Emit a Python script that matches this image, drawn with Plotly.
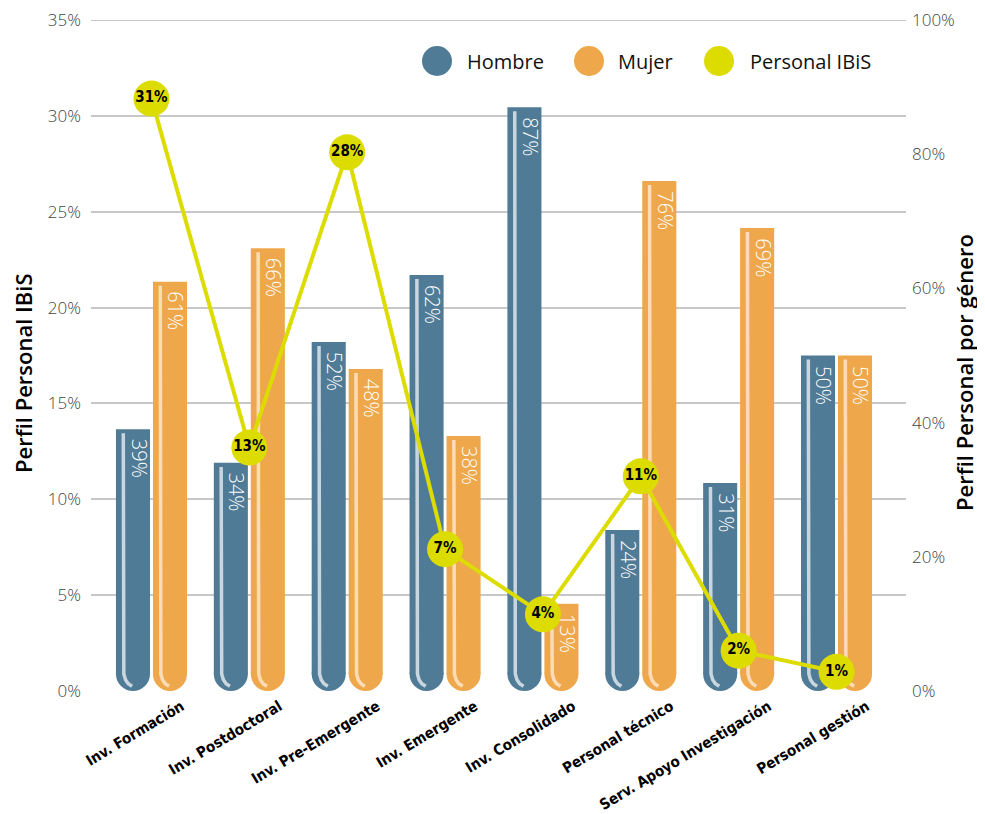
import plotly.graph_objects as go

categories = ["Inv. Formación", "Inv. Postdoctoral", "Inv. Pre-Emergente", "Inv. Emergente",
              "Inv. Consolidado", "Personal técnico", "Serv. Apoyo Investigación", "Personal gestión"]
hombre = [39, 34, 52, 62, 87, 24, 31, 50]
mujer = [61, 66, 48, 38, 13, 76, 69, 50]
personal_ibis = [30.9, 12.7, 28.1, 7.4, 4.0, 11.2, 2.1, 1.0]
left_ticks = [0, 5, 10, 15, 20, 25, 30, 35]
right_ticks = [0, 20, 40, 60, 80, 100]

C_H = "#4f7b96"
C_M = "#eea84b"
C_Y = "#dcdc00"
S_H = "#c9d6df"
S_M = "#fbdcb6"
COND = "DejaVu Sans Condensed, Open Sans Condensed, Open Sans"

# page body has an 8px margin; figure is sized so that the plot lands where the reference has it
BODY = 8
W, H = 985 - BODY, 814 - BODY
PX0, PX1, PY0, PY1 = 91 - BODY, 906 - BODY, 20 - BODY, 691 - BODY
XR = [-0.618, 7.71]
GR = [0, 100.0005]
IR = [0, 35.0002]
xs = list(range(len(categories)))
BW = 0.348
OFF_H = -0.363
OFF_M = 0.015
ux = (XR[1] - XR[0]) / (PX1 - PX0)
uy = (GR[1] - GR[0]) / (PY1 - PY0)
RY = (BW / 2) / ux * uy  # bottom radius in gender-axis units

fig = go.Figure()
annotations = []

def bar_trace(vals, name, color, off):
    return go.Bar(
        x=xs, y=[v - RY for v in vals], base=RY, name=name, yaxis="y",
        width=BW, offset=off, marker=dict(color=color, line=dict(width=0)),
        showlegend=False, hoverinfo="skip",
    )

fig.add_trace(bar_trace(hombre, "Hombre", C_H, OFF_H))
fig.add_trace(bar_trace(mujer, "Mujer", C_M, OFF_M))

# value labels inside the bars (rotated, near the top, right of the stripe)
for vals, off in ((hombre, OFF_H), (mujer, OFF_M)):
    for i, v in enumerate(vals):
        annotations.append(dict(x=i + off + BW / 2, y=v, xref="x", yref="y", text=f"{v}%",
                                showarrow=False, textangle=90, xanchor="center", yanchor="top",
                                xshift=6, yshift=-8,
                                font=dict(family="Open Sans", size=20, color="white", weight=300)))

# highlight stripes inside bars, drawn on the bar axis (above bars, below the line)
for vals, off, sc in ((hombre, OFF_H, S_H), (mujer, OFF_M, S_M)):
    sx, sy = [], []
    for i, v in enumerate(vals):
        x0 = i + off + 0.075
        sx += [x0, x0]
        sy += [v - 0.6, 3.6]
        for t in (0.25, 0.5, 0.75, 1.0):
            qx = (1 - t) ** 2 * x0 + 2 * (1 - t) * t * x0 + t ** 2 * (x0 + 0.09)
            qy = (1 - t) ** 2 * 3.6 + 2 * (1 - t) * t * 1.2 + t ** 2 * 0.7
            sx.append(qx)
            sy.append(qy)
        sx.append(None)
        sy.append(None)
    fig.add_trace(go.Scatter(x=sx, y=sy, mode="lines", yaxis="y", line=dict(color=sc, width=3.5),
                             showlegend=False, hoverinfo="skip"))

fig.add_trace(go.Scatter(
    x=xs, y=personal_ibis, name="Personal IBiS", mode="lines+markers+text", yaxis="y2",
    line=dict(color=C_Y, width=4), marker=dict(size=36, color=C_Y),
    text=[f"{round(v)}%" for v in personal_ibis], textposition="middle center",
    textfont=dict(family=COND, size=15, color="black", weight="bold"),
    showlegend=False, hoverinfo="skip",
))

shapes = []
K = 0.5523
for vals, off, col in ((hombre, OFF_H, C_H), (mujer, OFF_M, C_M)):
    for i, v in enumerate(vals):
        xl = i + off
        xr = xl + BW
        xc = xl + BW / 2
        hw = BW / 2
        path = (f"M {xl},{RY + 0.2} L {xl},{RY} C {xl},{RY - RY*K} {xc - hw*K},0 {xc},0 "
                f"C {xc + hw*K},0 {xr},{RY - RY*K} {xr},{RY} L {xr},{RY + 0.2} Z")
        shapes.append(dict(type="path", xref="x", yref="y", path=path, fillcolor=col,
                           line=dict(width=0), layer="between"))

# top gridline (at the last left tick)
shapes.append(dict(type="line", xref="paper", yref="y2", x0=0, x1=1, y0=left_ticks[-1], y1=left_ticks[-1],
                   line=dict(color="#c8c8c8", width=2), layer="below"))

# manual legend
leg = [("Hombre", C_H, 437, 465), ("Mujer", C_M, 589, 616), ("Personal IBiS", C_Y, 719, 748)]
def px(xp):
    return (xp - BODY - PX0) / (PX1 - PX0)
def py(yp):
    return (PY1 - (yp - BODY)) / (PY1 - PY0)
for name, col, cx, tx in leg:
    shapes.append(dict(type="circle", xref="paper", yref="paper", xsizemode="pixel", ysizemode="pixel",
                       xanchor=px(cx), yanchor=py(61), x0=-15, x1=15, y0=-15, y1=15,
                       fillcolor=col, line=dict(width=0), layer="above"))
    annotations.append(dict(xref="paper", yref="paper", x=px(tx), y=py(61), text=name, showarrow=False,
                            xanchor="left", yanchor="middle",
                            font=dict(family="Open Sans", size=20, color="#111")))

# axis titles
title_font = dict(family="Open Sans", size=22, color="black", weight=600)
annotations.append(dict(xref="paper", yref="paper", x=px(23), y=py(373), text="Perfil Personal IBiS",
                        showarrow=False, textangle=-90, xanchor="center", yanchor="middle", font=title_font))
annotations.append(dict(xref="paper", yref="paper", x=px(964), y=py(373), text="Perfil Personal por género",
                        showarrow=False, textangle=-90, xanchor="center", yanchor="middle", font=title_font))

tickfont = dict(family="Open Sans", size=17, color="#444", weight=300)

fig.update_layout(
    width=W, height=H, paper_bgcolor="white", plot_bgcolor="white",
    margin=dict(l=PX0, r=W - PX1, t=PY0, b=H - PY1, autoexpand=False),
    barmode="overlay", shapes=shapes, annotations=annotations,
    xaxis=dict(range=XR, tickvals=xs, ticktext=categories, tickangle=-31, automargin=False,
               tickfont=dict(family=COND, size=15, color="black", weight="bold"),
               showgrid=False, zeroline=False, showline=False, ticks="", ticklabelshift=30,
               ticklabelstandoff=3, ticklabeloverflow="allow"),
    yaxis=dict(range=GR, tickvals=right_ticks, ticktext=[f"{t}%" for t in right_ticks],
               side="right", showgrid=False, zeroline=False, tickfont=tickfont, automargin=False,
               ticklabeloverflow="allow", ticklabelstandoff=5),
    yaxis2=dict(range=IR, tickvals=left_ticks, ticktext=[f"{t}%" for t in left_ticks],
                overlaying="y", side="left", automargin=False, ticklabeloverflow="allow",
                ticklabelstandoff=9,
                showgrid=True, gridcolor="#c8c8c8", gridwidth=2, zeroline=False, tickfont=tickfont),
)

fig.write_html("out.html")
